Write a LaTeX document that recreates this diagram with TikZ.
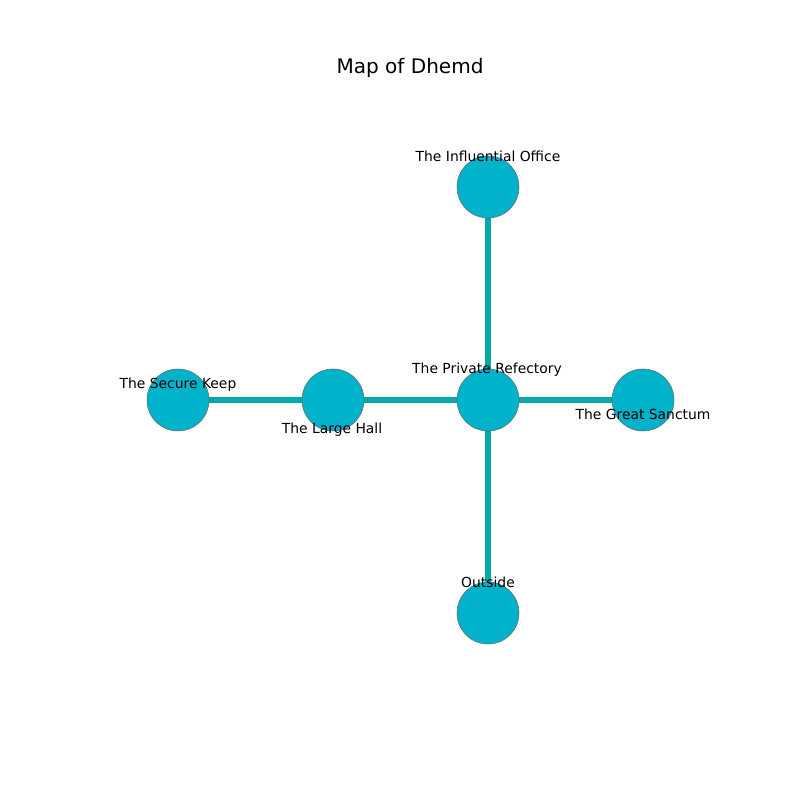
\documentclass[tikz,border=0pt]{standalone}
\usepackage{fontspec}
\setmainfont{DejaVu Sans}
\usetikzlibrary{backgrounds}
\definecolor{roomfill}{RGB}{0,179,203}
\definecolor{roomedge}{RGB}{0,169,170}
\tikzset{
	room/.style={circle, fill=roomfill, draw=gray!80!black, line width=0.3pt, minimum size=1.24cm, inner sep=0pt},
	passage/.style={draw=roomedge, line width=2.9pt},
	roomname/.style={font=\fontsize{7.9}{9}\selectfont, inner sep=0pt}
}
\begin{document}
\begin{tikzpicture}
				\useasboundingbox (0,0) rectangle (16,16);
				
				\node (title) at (8.2, 14.64) {\fontsize{11.4}{13}\selectfont Map of Dhemd};
				
				\node[room] (office) at (9.76, 12.26) {};
				\node[room] (refectory) at (9.76, 8) {};
				\node[room] (keep) at (3.56, 8) {};
				\node[room] (hall) at (6.66, 8) {};
				\node[room] (sanctum) at (12.86, 8) {};
				\node[room] (outside) at (9.76, 3.74) {};
				
				\begin{scope}[on background layer]
				\draw[passage] (keep.center) -- (hall.center);
				\draw[passage] (hall.center) -- (refectory.center);
				\draw[passage] (refectory.center) -- (sanctum.center);
				\draw[passage] (refectory.center) -- (office.center);
				\draw[passage] (refectory.center) -- (outside.center);
				\end{scope}
				
				\node[roomname] (officename) at (9.76, 12.87) {The Influential Office};
				\node[roomname] (refectoryname) at (9.74, 8.61) {The Private Refectory};
				\node[roomname] (keepname) at (3.56, 8.31) {The Secure Keep};
				\node[roomname] (hallname) at (6.64, 7.41) {The Large Hall};
				\node[roomname] (sanctumname) at (12.86, 7.71) {The Great Sanctum};
				\node[roomname] (outsidename) at (9.76, 4.35) {Outside};
\end{tikzpicture}
\end{document}
